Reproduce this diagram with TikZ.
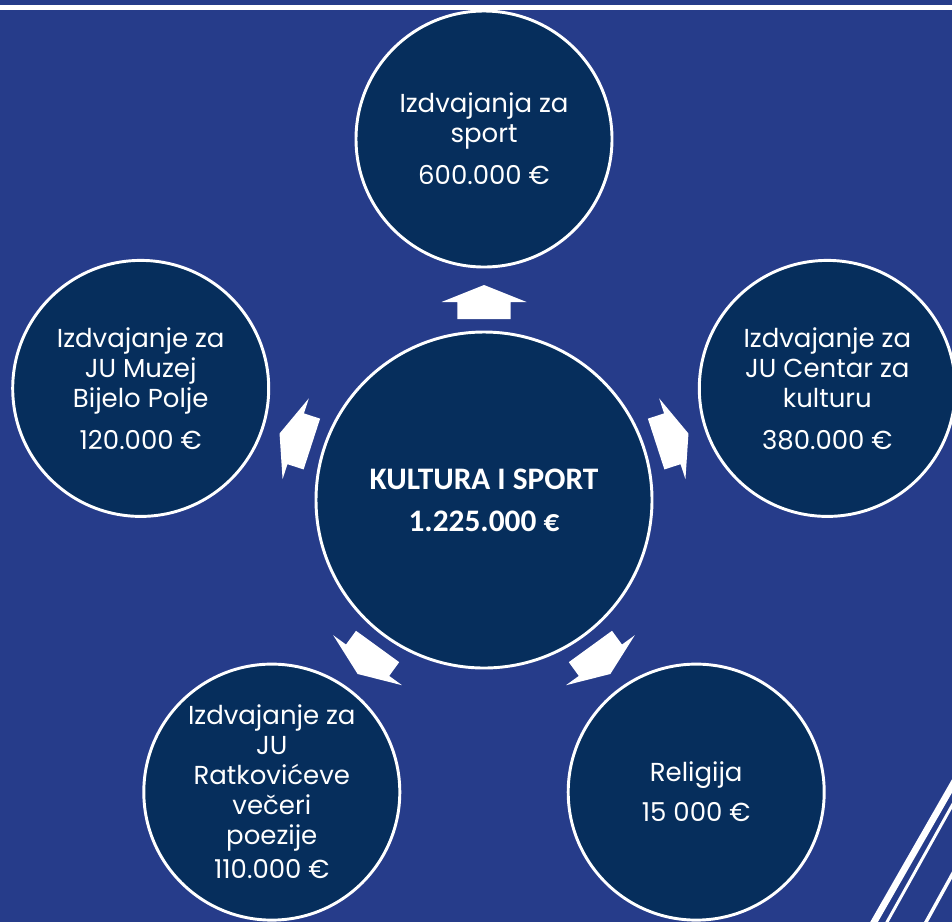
\documentclass[tikz,border=0pt]{standalone}
\usepackage{fontspec}
\setmainfont{Poppins}
\newfontfamily\hubfont{Carlito}
\usetikzlibrary{calc}
\definecolor{bgblue}{RGB}{38,60,138}
\definecolor{navy}{RGB}{6,46,92}
\begin{document}
\begin{tikzpicture}[x=0.75pt,y=-0.75pt,
  bubble/.style={circle, draw=white, line width=2.2pt, fill=navy, inner sep=0pt,
    text=white, align=center, font=\fontsize{19.5}{22.5}\selectfont},
  sat/.style={bubble, minimum size=192pt},
  hub/.style={bubble, minimum size=252pt, font=\hubfont\bfseries\fontsize{23.5}{31.5}\selectfont},
  blockarrow/.pic={\fill[white] (0,-17) -- (42.5,0) -- (26.7,0) -- (26.7,17)
      -- (-26.7,17) -- (-26.7,0) -- (-42.5,0) -- cycle;},
  stripe/.style={white}
]
\useasboundingbox (0,0) rectangle (952,922);
\fill[bgblue] (0,0) rectangle (952,922);
\draw[white, line width=3.4pt] (0,7.5) -- (952,7.5);

\begin{scope}
\clip (0,0) rectangle (952,922);
\draw[stripe, line width=5pt] (868.3,932) -- (957.7,776);
\draw[stripe, line width=2.2pt] (881.4,932) -- (957.6,795.6);
\draw[stripe, line width=2.6pt] (920.5,932) -- (957.5,865);

\node[hub] (c) at (484,500) {KULTURA I SPORT\\1.225.000 €};
\node[sat] (s1) at (484,139) {Izdvajanja za\\sport\\[9pt]600.000 €};
\node[sat] (s2) at (140.7,388.4) {Izdvajanje za\\JU Muzej\\Bijelo Polje\\[9pt]120.000 €};
\node[sat] (s3) at (271.8,792.1) {Izdvajanje za\\JU\\Ratkovićeve\\večeri\\poezije\\[3pt]110.000 €};
\node[sat] (s4) at (696.2,792.1) {Religija\\[7.5pt]15 000 €};
\node[sat] (s5) at (827.3,388.4) {Izdvajanje za\\JU Centar za\\kulturu\\[9pt]380.000 €};

\pic at ($(c)!0.5485!(s1)$) {blockarrow};
\pic[rotate=72] at ($(c)!0.5485!(s2)$) {blockarrow};
\pic[rotate=144] at ($(c)!0.5485!(s3)$) {blockarrow};
\pic[rotate=-144] at ($(c)!0.5485!(s4)$) {blockarrow};
\pic[rotate=-72] at ($(c)!0.5485!(s5)$) {blockarrow};
\end{scope}
\end{tikzpicture}
\end{document}
